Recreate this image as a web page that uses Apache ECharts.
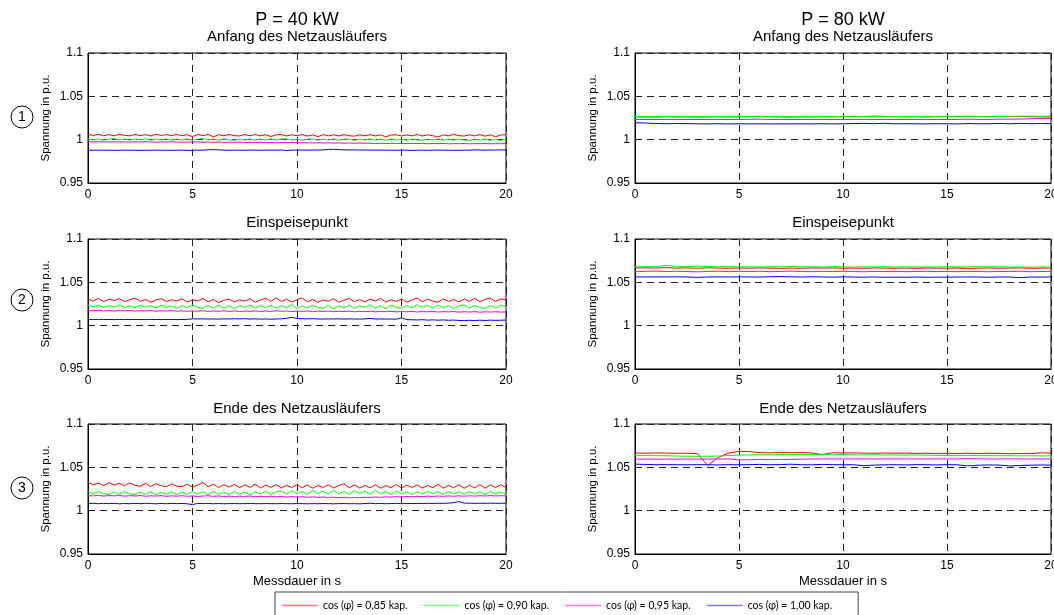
<!DOCTYPE html>
<html><head><meta charset="utf-8">
<script src="https://cdn.jsdelivr.net/npm/echarts@6/dist/echarts.min.js"></script>
<style>html,body{margin:0;padding:0;background:#fff}#c{width:1054px;height:615px}</style>
</head><body><div id="c"></div>
<script>
// ---------- DATA ----------
const seriesNames = ['cos (φ) = 0,85 kap.', 'cos (φ) = 0,90 kap.', 'cos (φ) = 0,95 kap.', 'cos (φ) = 1,00 kap.'];
const xTicks = [0, 5, 10, 15, 20];
const yTicks = [0.95, 1.0, 1.05, 1.1];
const columnTitles = ['P = 40 kW', 'P = 80 kW'];
const rowTitles = ['Anfang des Netzausläufers', 'Einspeisepunkt', 'Ende des Netzausläufers'];
const rowMarks = ['1', '2', '3'];

// 40 kW: samples every 0.25 s (81 values), 80 kW: every 0.5 s (41 values)
const a40_085 = [
1.0060,1.0049,1.0062,1.0046,1.0058,1.0045,1.0061,1.0050,1.0044,
1.0060,1.0047,1.0058,1.0043,1.0063,1.0048,1.0059,1.0046,1.0061,
1.0045,1.0058,1.0034,1.0060,1.0046,1.0062,1.0032,1.0057,1.0045,
1.0059,1.0047,1.0043,1.0058,1.0046,1.0060,1.0044,1.0057,1.0036,
1.0056,1.0060,1.0043,1.0057,1.0045,1.0059,1.0042,1.0056,1.0035,
1.0058,1.0044,1.0056,1.0043,1.0057,1.0045,1.0041,1.0056,1.0044,
1.0058,1.0043,1.0055,1.0033,1.0054,1.0057,1.0042,1.0055,1.0044,
1.0060,1.0043,1.0056,1.0045,1.0031,1.0055,1.0044,1.0062,1.0046,
1.0042,1.0056,1.0044,1.0058,1.0041,1.0055,1.0034,1.0054,1.0057];
const a40_090 = [
1.0008,0.9997,1.0010,0.9995,1.0006,1.0012,0.9996,1.0008,0.9994,
1.0009,0.9998,1.0011,0.9994,1.0007,0.9997,1.0010,0.9993,1.0008,
0.9996,1.0009,0.9992,1.0007,1.0013,0.9997,1.0008,0.9994,1.0009,
0.9998,0.9993,1.0008,0.9996,1.0010,0.9994,1.0007,0.9995,1.0009,
0.9993,1.0007,1.0011,0.9995,1.0008,0.9992,1.0006,1.0009,0.9994,
1.0007,0.9995,1.0010,0.9993,1.0006,1.0008,0.9992,1.0007,0.9996,
1.0009,0.9993,1.0006,0.9991,1.0008,0.9995,1.0007,0.9993,1.0009,
0.9996,0.9992,1.0007,0.9995,1.0010,0.9993,1.0006,0.9994,1.0008,
0.9995,0.9991,1.0007,0.9994,1.0006,0.9992,1.0005,0.9990,1.0006];
const a40_095 = [
0.9976,0.9974,0.9977,0.9975,0.9973,0.9976,0.9974,0.9975,0.9972,
0.9975,0.9973,0.9976,0.9974,0.9971,0.9974,0.9972,0.9975,0.9973,
0.9970,0.9973,0.9971,0.9974,0.9969,0.9972,0.9970,0.9973,0.9968,
0.9971,0.9969,0.9972,0.9967,0.9970,0.9968,0.9971,0.9966,0.9969,
0.9964,0.9967,0.9965,0.9968,0.9963,0.9966,0.9964,0.9962,0.9965,
0.9961,0.9964,0.9960,0.9963,0.9959,0.9962,0.9958,0.9961,0.9959,
0.9960,0.9956,0.9958,0.9955,0.9959,0.9956,0.9958,0.9954,0.9957,
0.9955,0.9958,0.9953,0.9956,0.9954,0.9957,0.9952,0.9955,0.9953,
0.9956,0.9952,0.9955,0.9953,0.9956,0.9952,0.9954,0.9953,0.9955];
const a40_100 = [
0.9878,0.9878,0.9879,0.9878,0.9878,0.9877,0.9878,0.9879,0.9878,
0.9878,0.9877,0.9878,0.9878,0.9879,0.9878,0.9878,0.9877,0.9878,
0.9879,0.9878,0.9876,0.9878,0.9879,0.9883,0.9886,0.9882,0.9879,
0.9878,0.9879,0.9878,0.9878,0.9880,0.9879,0.9878,0.9879,0.9880,
0.9879,0.9881,0.9874,0.9880,0.9879,0.9880,0.9879,0.9881,0.9880,
0.9882,0.9887,0.9889,0.9885,0.9883,0.9881,0.9882,0.9880,0.9881,
0.9880,0.9879,0.9880,0.9878,0.9879,0.9877,0.9879,0.9878,0.9877,
0.9878,0.9879,0.9877,0.9878,0.9880,0.9879,0.9878,0.9877,0.9878,
0.9879,0.9878,0.9884,0.9880,0.9879,0.9881,0.9880,0.9882,0.9881];

const e40_085 = [
1.0308,1.0284,1.0316,1.0279,1.0305,1.0290,1.0312,1.0276,1.0300,
1.0318,1.0281,1.0303,1.0270,1.0296,1.0311,1.0278,1.0299,1.0284,
1.0309,1.0273,1.0297,1.0285,1.0314,1.0277,1.0301,1.0268,1.0293,
1.0306,1.0275,1.0298,1.0283,1.0310,1.0271,1.0295,1.0317,1.0280,
1.0322,1.0279,1.0305,1.0272,1.0300,1.0319,1.0276,1.0303,1.0269,
1.0298,1.0281,1.0311,1.0270,1.0294,1.0313,1.0277,1.0302,1.0274,
1.0307,1.0283,1.0315,1.0272,1.0299,1.0279,1.0308,1.0270,1.0296,
1.0320,1.0276,1.0304,1.0285,1.0271,1.0309,1.0280,1.0301,1.0274,
1.0306,1.0282,1.0316,1.0277,1.0303,1.0318,1.0281,1.0308,1.0299];
const e40_090 = [
1.0240,1.0218,1.0236,1.0210,1.0233,1.0215,1.0241,1.0208,1.0230,
1.0204,1.0238,1.0213,1.0231,1.0201,1.0236,1.0211,1.0228,1.0199,
1.0233,1.0207,1.0242,1.0212,1.0198,1.0230,1.0206,1.0239,1.0203,
1.0229,1.0196,1.0235,1.0209,1.0240,1.0200,1.0232,1.0205,1.0237,
1.0201,1.0233,1.0207,1.0244,1.0198,1.0229,1.0204,1.0236,1.0210,
1.0200,1.0234,1.0195,1.0228,1.0206,1.0239,1.0199,1.0231,1.0208,
1.0241,1.0202,1.0230,1.0196,1.0236,1.0211,1.0199,1.0233,1.0205,
1.0243,1.0209,1.0235,1.0200,1.0238,1.0206,1.0231,1.0197,1.0229,
1.0239,1.0203,1.0233,1.0210,1.0198,1.0232,1.0205,1.0237,1.0214];
const e40_095 = [
1.0176,1.0172,1.0178,1.0170,1.0175,1.0169,1.0174,1.0171,1.0177,
1.0168,1.0173,1.0170,1.0175,1.0166,1.0172,1.0169,1.0174,1.0167,
1.0171,1.0165,1.0170,1.0167,1.0173,1.0164,1.0169,1.0166,1.0171,
1.0165,1.0170,1.0163,1.0168,1.0166,1.0171,1.0164,1.0169,1.0165,
1.0172,1.0166,1.0169,1.0163,1.0168,1.0165,1.0170,1.0162,1.0167,
1.0164,1.0168,1.0161,1.0166,1.0163,1.0168,1.0160,1.0165,1.0162,
1.0167,1.0160,1.0164,1.0161,1.0166,1.0159,1.0163,1.0160,1.0165,
1.0158,1.0163,1.0160,1.0164,1.0157,1.0162,1.0159,1.0163,1.0156,
1.0161,1.0157,1.0162,1.0155,1.0160,1.0157,1.0161,1.0156,1.0159];
const e40_100 = [
1.0071,1.0071,1.0072,1.0071,1.0071,1.0070,1.0071,1.0072,1.0071,
1.0071,1.0071,1.0070,1.0071,1.0072,1.0071,1.0071,1.0071,1.0070,
1.0071,1.0072,1.0080,1.0077,1.0079,1.0076,1.0078,1.0075,1.0079,
1.0077,1.0080,1.0078,1.0081,1.0076,1.0079,1.0075,1.0078,1.0074,
1.0077,1.0079,1.0085,1.0096,1.0082,1.0080,1.0078,1.0081,1.0077,
1.0076,1.0078,1.0077,1.0079,1.0076,1.0078,1.0077,1.0076,1.0078,
1.0084,1.0077,1.0076,1.0077,1.0076,1.0075,1.0090,1.0070,1.0068,
1.0066,1.0069,1.0064,1.0067,1.0063,1.0066,1.0062,1.0065,1.0060,
1.0058,1.0062,1.0059,1.0063,1.0060,1.0064,1.0061,1.0063,1.0065];

const n40_085 = [
1.0325,1.0298,1.0319,1.0290,1.0322,1.0295,1.0316,1.0287,1.0320,
1.0292,1.0283,1.0315,1.0279,1.0310,1.0288,1.0276,1.0308,1.0282,
1.0277,1.0304,1.0271,1.0295,1.0325,1.0275,1.0306,1.0268,1.0299,
1.0272,1.0303,1.0266,1.0297,1.0270,1.0305,1.0263,1.0294,1.0269,
1.0301,1.0262,1.0293,1.0268,1.0300,1.0265,1.0296,1.0260,1.0291,
1.0267,1.0299,1.0262,1.0292,1.0308,1.0265,1.0297,1.0261,1.0290,
1.0264,1.0298,1.0259,1.0289,1.0266,1.0301,1.0262,1.0294,1.0268,
1.0297,1.0261,1.0292,1.0265,1.0303,1.0260,1.0291,1.0266,1.0299,
1.0258,1.0293,1.0264,1.0300,1.0261,1.0296,1.0267,1.0298,1.0270];
const n40_090 = [
1.0218,1.0190,1.0221,1.0195,1.0186,1.0215,1.0189,1.0220,1.0192,
1.0185,1.0214,1.0188,1.0219,1.0182,1.0212,1.0190,1.0217,1.0184,
1.0213,1.0188,1.0222,1.0191,1.0216,1.0185,1.0219,1.0189,1.0211,
1.0187,1.0220,1.0190,1.0214,1.0183,1.0217,1.0192,1.0223,1.0188,
1.0215,1.0227,1.0190,1.0232,1.0195,1.0221,1.0188,1.0234,1.0197,
1.0225,1.0191,1.0236,1.0196,1.0222,1.0189,1.0230,1.0198,1.0224,
1.0190,1.0231,1.0197,1.0220,1.0188,1.0227,1.0195,1.0218,1.0186,
1.0216,1.0191,1.0224,1.0194,1.0219,1.0187,1.0221,1.0193,1.0217,
1.0188,1.0220,1.0195,1.0216,1.0186,1.0222,1.0192,1.0214,1.0190];
const n40_095 = [
1.0175,1.0170,1.0177,1.0168,1.0174,1.0171,1.0176,1.0167,1.0173,
1.0169,1.0175,1.0166,1.0172,1.0168,1.0174,1.0165,1.0171,1.0167,
1.0173,1.0166,1.0170,1.0164,1.0169,1.0172,1.0165,1.0170,1.0163,
1.0168,1.0162,1.0167,1.0164,1.0169,1.0161,1.0166,1.0163,1.0167,
1.0160,1.0165,1.0158,1.0163,1.0156,1.0161,1.0155,1.0159,1.0153,
1.0158,1.0151,1.0156,1.0149,1.0154,1.0148,1.0153,1.0150,1.0155,
1.0152,1.0158,1.0154,1.0160,1.0156,1.0162,1.0158,1.0164,1.0160,
1.0166,1.0162,1.0168,1.0164,1.0169,1.0165,1.0170,1.0166,1.0171,
1.0167,1.0172,1.0168,1.0173,1.0169,1.0174,1.0170,1.0172,1.0171];
const n40_100 = [
1.0083,1.0085,1.0080,1.0084,1.0081,1.0085,1.0079,1.0083,1.0080,
1.0084,1.0081,1.0085,1.0082,1.0079,1.0083,1.0080,1.0084,1.0081,
1.0083,1.0079,1.0070,1.0084,1.0081,1.0083,1.0080,1.0082,1.0080,
1.0081,1.0082,1.0080,1.0081,1.0082,1.0081,1.0080,1.0082,1.0081,
1.0080,1.0082,1.0081,1.0080,1.0082,1.0081,1.0079,1.0081,1.0080,
1.0082,1.0081,1.0079,1.0081,1.0082,1.0080,1.0081,1.0079,1.0082,
1.0086,1.0081,1.0083,1.0080,1.0082,1.0084,1.0081,1.0083,1.0082,
1.0084,1.0082,1.0085,1.0083,1.0086,1.0084,1.0087,1.0093,1.0104,
1.0088,1.0086,1.0084,1.0086,1.0085,1.0087,1.0084,1.0086,1.0085];

const a80_085 = [
1.0263,1.0262,1.0261,1.0264,1.0262,1.0263,1.0261,1.0262,1.0264,1.0262,
1.0263,1.0265,1.0268,1.0263,1.0262,1.0261,1.0263,1.0262,1.0264,1.0263,
1.0266,1.0270,1.0267,1.0272,1.0268,1.0265,1.0263,1.0264,1.0262,1.0265,
1.0268,1.0266,1.0269,1.0267,1.0265,1.0268,1.0266,1.0269,1.0265,1.0263,
1.0262];
const a80_090 = [
1.0268,1.0269,1.0268,1.0267,1.0268,1.0268,1.0269,1.0268,1.0267,1.0268,
1.0268,1.0267,1.0266,1.0268,1.0267,1.0268,1.0268,1.0267,1.0268,1.0268,
1.0267,1.0266,1.0268,1.0267,1.0268,1.0267,1.0268,1.0268,1.0267,1.0268,
1.0268,1.0269,1.0268,1.0268,1.0267,1.0268,1.0269,1.0270,1.0272,1.0270,
1.0271];
const a80_095 = [
1.0233,1.0233,1.0232,1.0233,1.0232,1.0232,1.0233,1.0232,1.0232,1.0233,
1.0232,1.0235,1.0237,1.0233,1.0232,1.0232,1.0233,1.0232,1.0232,1.0233,
1.0232,1.0233,1.0233,1.0232,1.0233,1.0232,1.0233,1.0232,1.0232,1.0233,
1.0232,1.0233,1.0236,1.0234,1.0233,1.0237,1.0236,1.0238,1.0242,1.0246,
1.0244];
const a80_100 = [
1.0196,1.0192,1.0186,1.0184,1.0186,1.0185,1.0183,1.0182,1.0184,1.0182,
1.0183,1.0182,1.0183,1.0182,1.0183,1.0182,1.0183,1.0182,1.0184,1.0182,
1.0183,1.0186,1.0188,1.0184,1.0189,1.0183,1.0184,1.0183,1.0182,1.0184,
1.0183,1.0182,1.0186,1.0183,1.0184,1.0187,1.0183,1.0188,1.0184,1.0186,
1.0185];

const e80_085 = [
1.0666,1.0668,1.0665,1.0670,1.0664,1.0667,1.0663,1.0668,1.0665,1.0662,
1.0666,1.0663,1.0667,1.0664,1.0662,1.0665,1.0663,1.0666,1.0664,1.0667,
1.0663,1.0665,1.0662,1.0666,1.0664,1.0663,1.0665,1.0662,1.0666,1.0664,
1.0663,1.0665,1.0662,1.0664,1.0666,1.0663,1.0665,1.0667,1.0662,1.0664,
1.0666];
const e80_090 = [
1.0678,1.0680,1.0682,1.0697,1.0684,1.0680,1.0688,1.0683,1.0679,1.0681,
1.0677,1.0679,1.0676,1.0681,1.0678,1.0683,1.0677,1.0680,1.0676,1.0682,
1.0678,1.0675,1.0679,1.0677,1.0680,1.0676,1.0679,1.0675,1.0678,1.0677,
1.0680,1.0676,1.0678,1.0681,1.0677,1.0679,1.0676,1.0678,1.0674,1.0677,
1.0675];
const e80_095 = [
1.0622,1.0627,1.0630,1.0624,1.0628,1.0625,1.0621,1.0626,1.0629,1.0623,
1.0627,1.0624,1.0628,1.0622,1.0626,1.0629,1.0625,1.0623,1.0627,1.0624,
1.0628,1.0625,1.0622,1.0626,1.0624,1.0627,1.0623,1.0625,1.0628,1.0624,
1.0626,1.0623,1.0627,1.0625,1.0622,1.0626,1.0624,1.0628,1.0623,1.0625,
1.0627];
const e80_100 = [
1.0563,1.0562,1.0563,1.0562,1.0563,1.0562,1.0557,1.0562,1.0563,1.0562,
1.0563,1.0562,1.0561,1.0565,1.0566,1.0563,1.0561,1.0564,1.0562,1.0560,
1.0563,1.0561,1.0559,1.0562,1.0558,1.0560,1.0559,1.0561,1.0558,1.0560,
1.0559,1.0561,1.0562,1.0561,1.0558,1.0561,1.0562,1.0554,1.0561,1.0560,
1.0562];

const n80_085 = [
1.0665,1.0663,1.0666,1.0664,1.0662,1.0663,1.0658,1.0522,1.0615,1.0663,
1.0684,1.0682,1.0670,1.0667,1.0674,1.0668,1.0670,1.0666,1.0648,1.0668,
1.0665,1.0667,1.0664,1.0662,1.0665,1.0663,1.0664,1.0661,1.0663,1.0660,
1.0662,1.0659,1.0663,1.0660,1.0662,1.0661,1.0657,1.0660,1.0658,1.0668,
1.0662];
const n80_090 = [
1.0638,1.0636,1.0635,1.0634,1.0630,1.0628,1.0627,1.0628,1.0630,1.0636,
1.0641,1.0643,1.0645,1.0644,1.0648,1.0646,1.0650,1.0647,1.0645,1.0652,
1.0646,1.0644,1.0643,1.0645,1.0642,1.0643,1.0641,1.0642,1.0640,1.0638,
1.0637,1.0636,1.0638,1.0635,1.0636,1.0634,1.0635,1.0633,1.0634,1.0632,
1.0633];
const n80_095 = [
1.0594,1.0595,1.0594,1.0595,1.0594,1.0595,1.0594,1.0595,1.0596,1.0597,
1.0585,1.0588,1.0590,1.0589,1.0590,1.0592,1.0594,1.0596,1.0597,1.0598,
1.0597,1.0598,1.0597,1.0596,1.0598,1.0597,1.0598,1.0597,1.0596,1.0598,
1.0597,1.0598,1.0600,1.0598,1.0597,1.0596,1.0598,1.0597,1.0596,1.0598,
1.0597];
const n80_100 = [
1.0537,1.0533,1.0530,1.0531,1.0530,1.0529,1.0531,1.0530,1.0528,1.0531,
1.0529,1.0531,1.0534,1.0530,1.0532,1.0536,1.0530,1.0529,1.0534,1.0531,
1.0529,1.0530,1.0519,1.0526,1.0529,1.0530,1.0528,1.0531,1.0530,1.0528,
1.0531,1.0529,1.0517,1.0524,1.0528,1.0526,1.0516,1.0521,1.0525,1.0527,
1.0526];

// ---------- BUILD ----------
const step40 = 0.25, step80 = 0.5;
const panels = [
  {vals: [a40_085, a40_090, a40_095, a40_100], step: step40},
  {vals: [a80_085, a80_090, a80_095, a80_100], step: step80},
  {vals: [e40_085, e40_090, e40_095, e40_100], step: step40},
  {vals: [e80_085, e80_090, e80_095, e80_100], step: step80},
  {vals: [n40_085, n40_090, n40_095, n40_100], step: step40},
  {vals: [n80_085, n80_090, n80_095, n80_100], step: step80}
];
const lineColors = ['#ff0000', '#00ff00', '#ff00ff', '#0000ff'];
const legendColors = ['#ff7a7a', '#7cff7c', '#ff7aff', '#7a7aff'];

const FONT = 'Liberation Sans, Arial, sans-serif';
const colLeft = [88, 635], colWidth = [418, 416];
const rowTop = [53, 239, 424], plotH = 130;

const grids = [], xAxes = [], yAxes = [], series = [];
panels.forEach((p, i) => {
  const col = i % 2, row = Math.floor(i / 2);
  grids.push({left: colLeft[col], top: rowTop[row], width: colWidth[col], height: plotH,
    containLabel: false, outerBoundsMode: 'none',
    show: true, borderColor: '#000', borderWidth: 1, backgroundColor: '#fff'});
  xAxes.push({type: 'value', gridIndex: i, min: xTicks[0], max: xTicks[xTicks.length - 1],
    interval: xTicks[1] - xTicks[0],
    name: row === 2 ? 'Messdauer in s' : '', nameLocation: 'middle', nameGap: 21,
    nameTextStyle: {fontFamily: FONT, fontSize: 13, color: '#000'},
    axisLine: {show: true, lineStyle: {color: '#000', width: 1}},
    axisTick: {show: false},
    axisLabel: {color: '#000', fontFamily: FONT, fontSize: 12, margin: 6, hideOverlap: false},
    splitLine: {show: true, lineStyle: {color: '#222', width: 1, type: [7, 5]}}});
  yAxes.push({type: 'value', gridIndex: i, min: yTicks[0], max: yTicks[yTicks.length - 1],
    interval: 0.05,
    name: 'Spannung in p.u.', nameLocation: 'middle', nameGap: 36,
    nameTextStyle: {fontFamily: FONT, fontSize: 11.5, color: '#000'},
    axisLine: {show: true, lineStyle: {color: '#000', width: 1}},
    axisTick: {show: false},
    axisLabel: {color: '#000', fontFamily: FONT, fontSize: 12, margin: 5,
      formatter: v => String(+v.toFixed(2))},
    splitLine: {show: true, lineStyle: {color: '#222', width: 1, type: [7, 5]}}});
  p.vals.forEach((arr, k) => {
    series.push({type: 'line', name: seriesNames[k], xAxisIndex: i, yAxisIndex: i,
      data: arr.map((v, j) => [j * p.step, v]),
      symbol: 'none', showSymbol: false, clip: true, silent: true,
      lineStyle: {color: lineColors[k], width: 1}, itemStyle: {color: lineColors[k]}});
  });
});

const gfx = [];
const colCenter = [colLeft[0] + colWidth[0] / 2, colLeft[1] + colWidth[1] / 2];
const txt = (x, y, text, size) => ({type: 'text', x, y, silent: true,
  style: {text, font: size + 'px ' + FONT, fill: '#000', textAlign: 'center', textVerticalAlign: 'middle'}});
columnTitles.forEach((t, c) => gfx.push(txt(colCenter[c], 20.5, t, 18)));
const rowTitleY = [37, 223, 409];
rowTitles.forEach((t, r) => { colCenter.forEach(cx => gfx.push(txt(cx, rowTitleY[r], t, 15))); });
const markY = [117, 300, 488];
rowMarks.forEach((m, r) => {
  gfx.push({type: 'circle', silent: true, shape: {cx: 22, cy: markY[r], r: 11},
    style: {fill: '#fff', stroke: '#000', lineWidth: 1}});
  gfx.push(txt(22, markY[r] + 0.5, m, 14));
});

const option = {
  animation: false,
  backgroundColor: '#fff',
  grid: grids, xAxis: xAxes, yAxis: yAxes, series,
  legend: {
    left: 275, top: 592, orient: 'horizontal',
    icon: 'rect', itemWidth: 36, itemHeight: 1.5, itemGap: 16,
    padding: [8, 26, 12, 7],
    borderColor: '#444', borderWidth: 1, backgroundColor: '#fff',
    selectedMode: false,
    textStyle: {fontFamily: 'Lato, Carlito, sans-serif', fontSize: 10.5, color: '#000'},
    data: seriesNames.map((n, k) => ({name: n, itemStyle: {color: legendColors[k], borderWidth: 0}}))
  },
  graphic: gfx
};
const chart = echarts.init(document.getElementById('c'), null, {renderer: 'canvas'});
chart.setOption(option);
</script></body></html>
